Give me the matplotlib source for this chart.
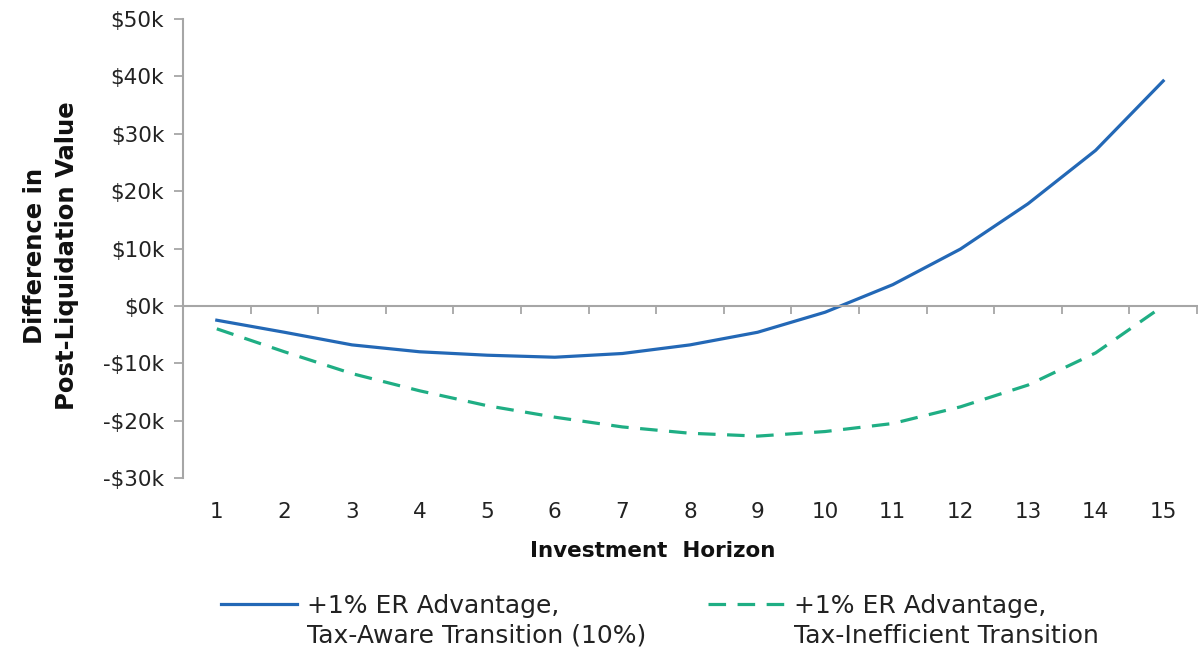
import matplotlib
matplotlib.use("Agg")
import matplotlib.pyplot as plt
from matplotlib.legend_handler import HandlerLine2D
from matplotlib.ticker import FuncFormatter, FixedLocator

# Investment horizon (years) and difference in post-liquidation value ($)
horizon = list(range(1, 16))
tax_aware = [-2.5e3, -4.6e3, -6.8e3, -8.0e3, -8.6e3, -8.95e3, -8.3e3, -6.8e3,
             -4.6e3, -1.1e3, 3.7e3, 9.9e3, 17.8e3, 27.1e3, 39.2e3]
tax_inefficient = [-4.0e3, -8.0e3, -11.8e3, -14.8e3, -17.4e3, -19.4e3, -21.1e3,
                   -22.2e3, -22.7e3, -21.9e3, -20.5e3, -17.6e3, -13.8e3, -8.2e3, 0.0]
labels = ["+1% ER Advantage,\nTax-Aware Transition (10%)",
          "+1% ER Advantage,\nTax-Inefficient Transition"]
y_ticks = [-30e3, -20e3, -10e3, 0, 10e3, 20e3, 30e3, 40e3, 50e3]

BLUE = "#2368b6"
GREEN = "#1fae84"
GRAY = "#a6a6a6"
TEXT = "#222222"
FONT = "DejaVu Sans"

W, H = 1198, 652
fig = plt.figure(figsize=(W / 100, H / 100), dpi=100)
ax = fig.add_axes([183 / W, 1 - 478 / H, (1197 - 183) / W, (478 - 19) / H])

ax.plot(horizon, tax_aware, color=BLUE, lw=2.3, label=labels[0])
ax.plot(horizon, tax_inefficient, color=GREEN, lw=2.3,
        linestyle=(0, (5.5, 3.6)), label=labels[1])

ax.set_xlim(0.5, 15.5)
ax.set_ylim(-30e3, 50e3)

# y axis
ax.set_yticks(y_ticks)
ax.yaxis.set_major_formatter(FuncFormatter(
    lambda v, _: ("-" if v < 0 else "") + "$%dk" % abs(round(v / 1000))))
ax.tick_params(axis="y", direction="out", length=6.5, width=1.3, color=GRAY,
               pad=7, labelsize=15.5, labelcolor=TEXT)
for t in ax.get_yticklabels():
    t.set_fontfamily(FONT)

# category axis drawn on the zero line, ticks between categories
for s in ("top", "right"):
    ax.spines[s].set_visible(False)
ax.spines["left"].set_color(GRAY)
ax.spines["left"].set_linewidth(1.5)
ax.spines["bottom"].set_position(("data", 0))
ax.spines["bottom"].set_color(GRAY)
ax.spines["bottom"].set_linewidth(1.5)
ax.set_xticks([])
ax.xaxis.set_minor_locator(FixedLocator([h + 0.5 for h in horizon]))
ax.tick_params(axis="x", which="minor", direction="out", length=6,
               width=1.3, color=GRAY, labelbottom=False)

sec = ax.secondary_xaxis("bottom")
sec.set_xticks(horizon, [str(h) for h in horizon])
sec.tick_params(length=0, pad=17, labelsize=15.5, labelcolor=TEXT)
sec.spines["bottom"].set_visible(False)
for t in sec.get_xticklabels():
    t.set_fontfamily(FONT)

fig.text(653 / W, 1 - 551 / H, "Investment  Horizon", ha="center",
         va="center", fontsize=15.5, fontweight="bold", family=FONT,
         color="#111111")
fig.text(51 / W, 1 - 256 / H, "Difference in\nPost-Liquidation Value",
         ha="center", va="center", rotation=90, fontsize=17.5,
         fontweight="bold", family=FONT, linespacing=1.45, color="#111111")


class FirstLineHandler(HandlerLine2D):
    """Legend line aligned with the first line of a two-line label."""

    def __init__(self, shift, **kw):
        super().__init__(**kw)
        self.shift = shift

    def create_artists(self, legend, orig_handle, xdescent, ydescent,
                       width, height, fontsize, trans):
        arts = super().create_artists(legend, orig_handle, xdescent,
                                      ydescent, width, height, fontsize, trans)
        for a in arts:
            x, y = a.get_data()
            a.set_data(x, [v + self.shift for v in y])
        return arts


handles, hl = ax.get_legend_handles_labels()
leg = fig.legend(handles, hl, loc="upper left", ncol=2,
                 bbox_to_anchor=(221 / W, 1 - 594 / H), frameon=False,
                 prop={"family": FONT, "size": 18},
                 handlelength=3.04, handletextpad=0.4, columnspacing=2.45,
                 borderpad=0, borderaxespad=0,
                 handler_map={h: FirstLineHandler(12.5) for h in handles})
for t in leg.get_texts():
    t.set_linespacing(1.3)
    t.set_color(TEXT)

fig.savefig("out.png", dpi=100)
